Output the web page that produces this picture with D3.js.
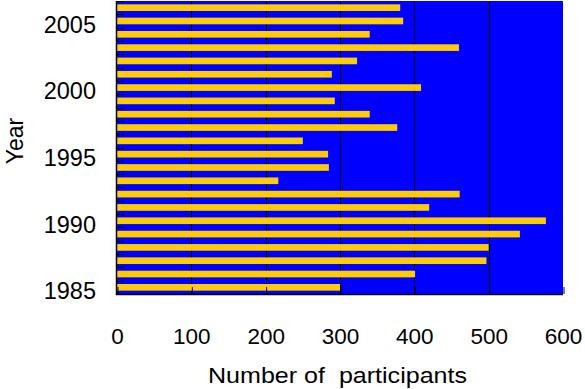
<!DOCTYPE html>
<html>
<head>
<meta charset="utf-8">
<script src="https://cdn.jsdelivr.net/npm/d3@7"></script>
<style>
  html, body { margin: 0; padding: 0; background: #fff; }
  svg { display: block; }
  text { font-family: "Liberation Sans", Arial, sans-serif; fill: #000; }
</style>
</head>
<body>
<svg id="chart" width="585" height="389"></svg>
<script>
const years = [1985, 1986, 1987, 1988, 1989, 1990, 1991, 1992, 1993, 1994, 1995,
               1996, 1997, 1998, 1999, 2000, 2001, 2002, 2003, 2004, 2005, 2006];
const participants = [300, 401, 497, 500, 542, 577, 420, 461, 217, 285, 284,
                      250, 377, 340, 293, 409, 289, 323, 460, 340, 385, 381];
const xTicks = [0, 100, 200, 300, 400, 500, 600];
const yLabelYears = [1985, 1990, 1995, 2000, 2005];
const xTitle = "Number of  participants";
const yTitle = "Year";

const svg = d3.select("#chart");
const plot = { left: 117, right: 563, top: 1, bottom: 294 };

const x = d3.scaleLinear().domain([0, 600]).range([plot.left, plot.right]);
const y = d3.scaleBand()
  .domain(years.slice().reverse())
  .range([plot.top, plot.bottom])
  .paddingInner(0.5)
  .paddingOuter(0.25);

// background
svg.append("rect")
  .attr("x", plot.left).attr("y", plot.top)
  .attr("width", plot.right - plot.left).attr("height", plot.bottom - plot.top)
  .attr("fill", "#0000ff");

// vertical gridlines
svg.append("g").selectAll("line")
  .data(xTicks.filter(v => v > 0 && v < 600))
  .join("line")
  .attr("x1", d => Math.round(x(d)) + 0.5).attr("x2", d => Math.round(x(d)) + 0.5)
  .attr("y1", plot.top).attr("y2", plot.bottom)
  .attr("stroke", "#000").attr("stroke-width", 1);

// bars
const data = years.map((yr, i) => ({ year: yr, value: participants[i] }));
svg.append("g").selectAll("rect")
  .data(data)
  .join("rect")
  .attr("x", x(0))
  .attr("y", d => y(d.year))
  .attr("width", d => x(d.value) - x(0))
  .attr("height", y.bandwidth())
  .attr("fill", "#ffcc00");

// y inward ticks at band boundaries
const boundaries = d3.range(years.length + 1).map(i => y.range()[0] + i * y.step());
svg.append("g").selectAll("line")
  .data(boundaries.slice(0, -1))
  .join("line")
  .attr("x1", plot.left).attr("x2", plot.left + 7)
  .attr("y1", d => Math.round(d) + 0.5).attr("y2", d => Math.round(d) + 0.5)
  .attr("stroke", "#000").attr("stroke-width", 1);

// x axis
const xAxis = d3.axisBottom(x).tickValues(xTicks)
  .tickSizeInner(-7).tickSizeOuter(0).tickPadding(34)
  .tickFormat(d3.format("d"));
const gx = svg.append("g").attr("transform", `translate(0,${plot.bottom})`).call(xAxis);
gx.select(".domain").remove();
gx.selectAll(".tick line").attr("stroke", "#000")
  .attr("transform", "translate(0.5,0)");
gx.selectAll(".tick text")
  .style("font-size", "22.5px")
  .style("font-family", "'Liberation Sans', Arial, sans-serif")
  .attr("fill", "#000");

// y axis labels
const yAxis = d3.axisLeft(y).tickValues(yLabelYears).tickSize(0).tickPadding(21);
const gy = svg.append("g").attr("transform", `translate(${plot.left},0)`).call(yAxis);
gy.select(".domain").remove();
gy.selectAll(".tick text")
  .attr("dy", "0.5em")
  .style("font-size", "23.5px")
  .style("font-family", "'Liberation Sans', Arial, sans-serif")
  .attr("fill", "#000");

// axis lines
svg.append("line")
  .attr("x1", plot.left - 0.5).attr("x2", plot.left - 0.5)
  .attr("y1", plot.top).attr("y2", plot.bottom + 1)
  .attr("stroke", "#000").attr("stroke-width", 1.5);
svg.append("line")
  .attr("x1", plot.left - 1).attr("x2", plot.right)
  .attr("y1", plot.bottom + 0.5).attr("y2", plot.bottom + 0.5)
  .attr("stroke", "#000").attr("stroke-width", 1.5);

// titles
svg.append("text")
  .attr("x", 208)
  .attr("y", 382.7)
  .attr("text-anchor", "start")
  .attr("textLength", 259)
  .attr("lengthAdjust", "spacingAndGlyphs")
  .style("font-size", "22px")
  .style("white-space", "pre")
  .text(xTitle);

svg.append("text")
  .attr("transform", "translate(23,141) rotate(-90)")
  .attr("text-anchor", "middle")
  .style("font-size", "23px")
  .text(yTitle);
</script>
</body>
</html>
